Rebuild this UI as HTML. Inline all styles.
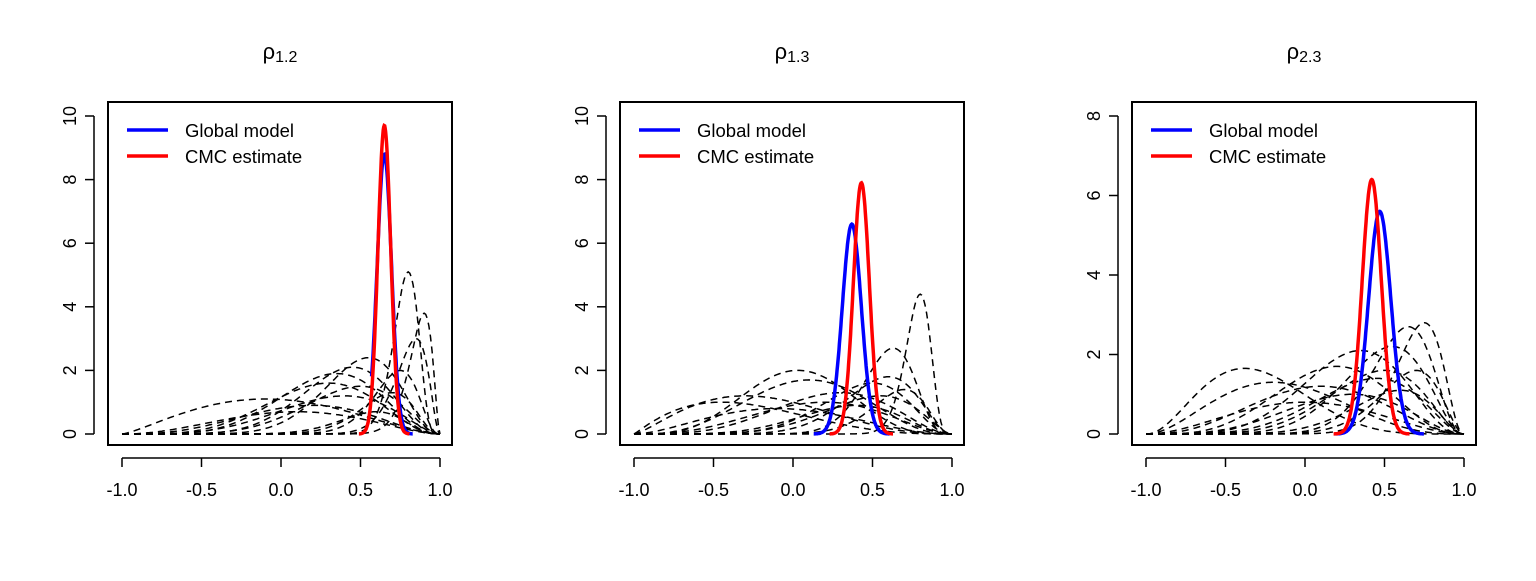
<!DOCTYPE html><html><head><meta charset="utf-8"><style>
body{margin:0;background:#fff;width:1536px;height:576px;overflow:hidden}
svg{font-family:"Liberation Sans",sans-serif}
</style></head><body>
<svg id="s" width="1536" height="576" xmlns="http://www.w3.org/2000/svg"></svg>
<script>
const S=document.getElementById('s');let h='';
const panels=[
 {ox:0,ymax:10,yt:[0,2,4,6,8,10],sub:'1.2',
  blue:[0.65,0.045,8.8,0.57],red:[0.65,0.04,9.7],
  d:[[0.8,60,5.1],[0.9,40,3.8],[0.85,30,3.0],[0.55,14,2.4],[0.45,12,2.1],[0.35,10,1.9],[0.3,9,1.6],[-0.1,5,1.1],[0.7,20,1.3],[0.2,7,0.9],[0.6,18,0.7],[0.4,8,1.2],[0.5,10,1.5],[0.75,25,2.0],[0.1,6,0.7]]},
 {ox:512,ymax:10,yt:[0,2,4,6,8,10],sub:'1.3',
  blue:[0.37,0.06,6.6,-1],red:[0.43,0.05,7.9],
  d:[[0.8,60,4.4],[0.63,25,2.7],[0.03,10,2.0],[0.1,8,1.7],[-0.3,6,1.2],[-0.45,6,1.0],[0.3,8,1.3],[0.5,12,1.6],[0.6,14,1.8],[0.2,7,1.0],[0.7,20,1.4],[0.4,10,0.9],[-0.1,6,0.8],[0.55,10,1.2]]},
 {ox:1024,ymax:8,yt:[0,2,4,6,8],sub:'2.3',
  blue:[0.47,0.07,5.6,-1],red:[0.42,0.06,6.4],
  d:[[-0.38,9,1.65],[0.75,22,2.8],[0.65,18,2.7],[-0.2,7,1.3],[0.2,9,1.7],[0.35,10,2.1],[0.55,12,2.2],[0.5,10,1.6],[0.1,7,1.2],[0.45,9,1.4],[0.7,16,1.6],[0.3,8,1.0],[0.6,12,1.1],[0.0,6,0.8]]}
];
function beta(x,a,b){const t=(x+1)/2;if(t<=0||t>=1)return 0;return Math.pow(t,a-1)*Math.pow(1-t,b-1);}
panels.forEach(p=>{
 const X=v=>p.ox+122+(v+1)*159, Y=v=>434-v*(318/p.ymax);
 h+=`<rect x="${p.ox+108}" y="102" width="344" height="343" fill="none" stroke="#000" stroke-width="2"/>`;
 h+=`<text x="${p.ox+280}" y="59" font-size="22" text-anchor="middle">ρ<tspan font-size="16" dy="3">${p.sub}</tspan></text>`;
 h+=`<line x1="${X(-1)}" y1="458" x2="${X(1)}" y2="458" stroke="#000" stroke-width="1.5"/>`;
 [-1,-0.5,0,0.5,1].forEach(v=>{h+=`<line x1="${X(v)}" y1="458" x2="${X(v)}" y2="467" stroke="#000" stroke-width="1.5"/><text x="${X(v)}" y="496" font-size="18" text-anchor="middle">${v.toFixed(1)}</text>`;});
 h+=`<line x1="94" y1="${Y(0)}" x2="94" y2="${Y(p.ymax)}" transform="translate(${p.ox},0)" stroke="#000" stroke-width="1.5"/>`;
 p.yt.forEach(v=>{h+=`<line x1="${p.ox+85}" y1="${Y(v)}" x2="${p.ox+94}" y2="${Y(v)}" stroke="#000" stroke-width="1.5"/><text transform="translate(${p.ox+76},${Y(v)}) rotate(-90)" font-size="18" text-anchor="middle">${v}</text>`;});
 p.d.forEach(([m,n,pk])=>{const mm=(m+1)/2,a=1+mm*(n-2),b=1+(1-mm)*(n-2);let mx=0,pts=[];
  for(let i=0;i<=200;i++){const x=-1+i/100;const y=beta(x,a,b);pts.push([x,y]);if(y>mx)mx=y;}
  h+=`<polyline fill="none" stroke="#000" stroke-width="1.5" stroke-dasharray="7,5" points="${pts.map(q=>X(q[0]).toFixed(1)+','+Y(q[1]/mx*pk).toFixed(1)).join(' ')}"/>`;});
 const g=(c,col,start)=>{const[m,sd,pk]=c;let pts=[];for(let x=Math.max(m-4*sd,start);x<=m+4*sd;x+=0.003){pts.push(X(x).toFixed(1)+','+Y(pk*Math.exp(-0.5*((x-m)/sd)**2)).toFixed(1));}
  h+=`<polyline fill="none" stroke="${col}" stroke-width="3.5" points="${pts.join(' ')}"/>`;};
 g(p.blue,'#0000ff',p.blue[3]);g(p.red,'#ff0000',-1);
 h+=`<line x1="${p.ox+127}" y1="130" x2="${p.ox+168}" y2="130" stroke="#0000ff" stroke-width="3.5"/><line x1="${p.ox+127}" y1="156" x2="${p.ox+168}" y2="156" stroke="#ff0000" stroke-width="3.5"/>`;
 h+=`<text x="${p.ox+185}" y="137" font-size="18.5">Global model</text><text x="${p.ox+185}" y="163" font-size="18.5">CMC estimate</text>`;
});
S.innerHTML=h;
</script></body></html>
